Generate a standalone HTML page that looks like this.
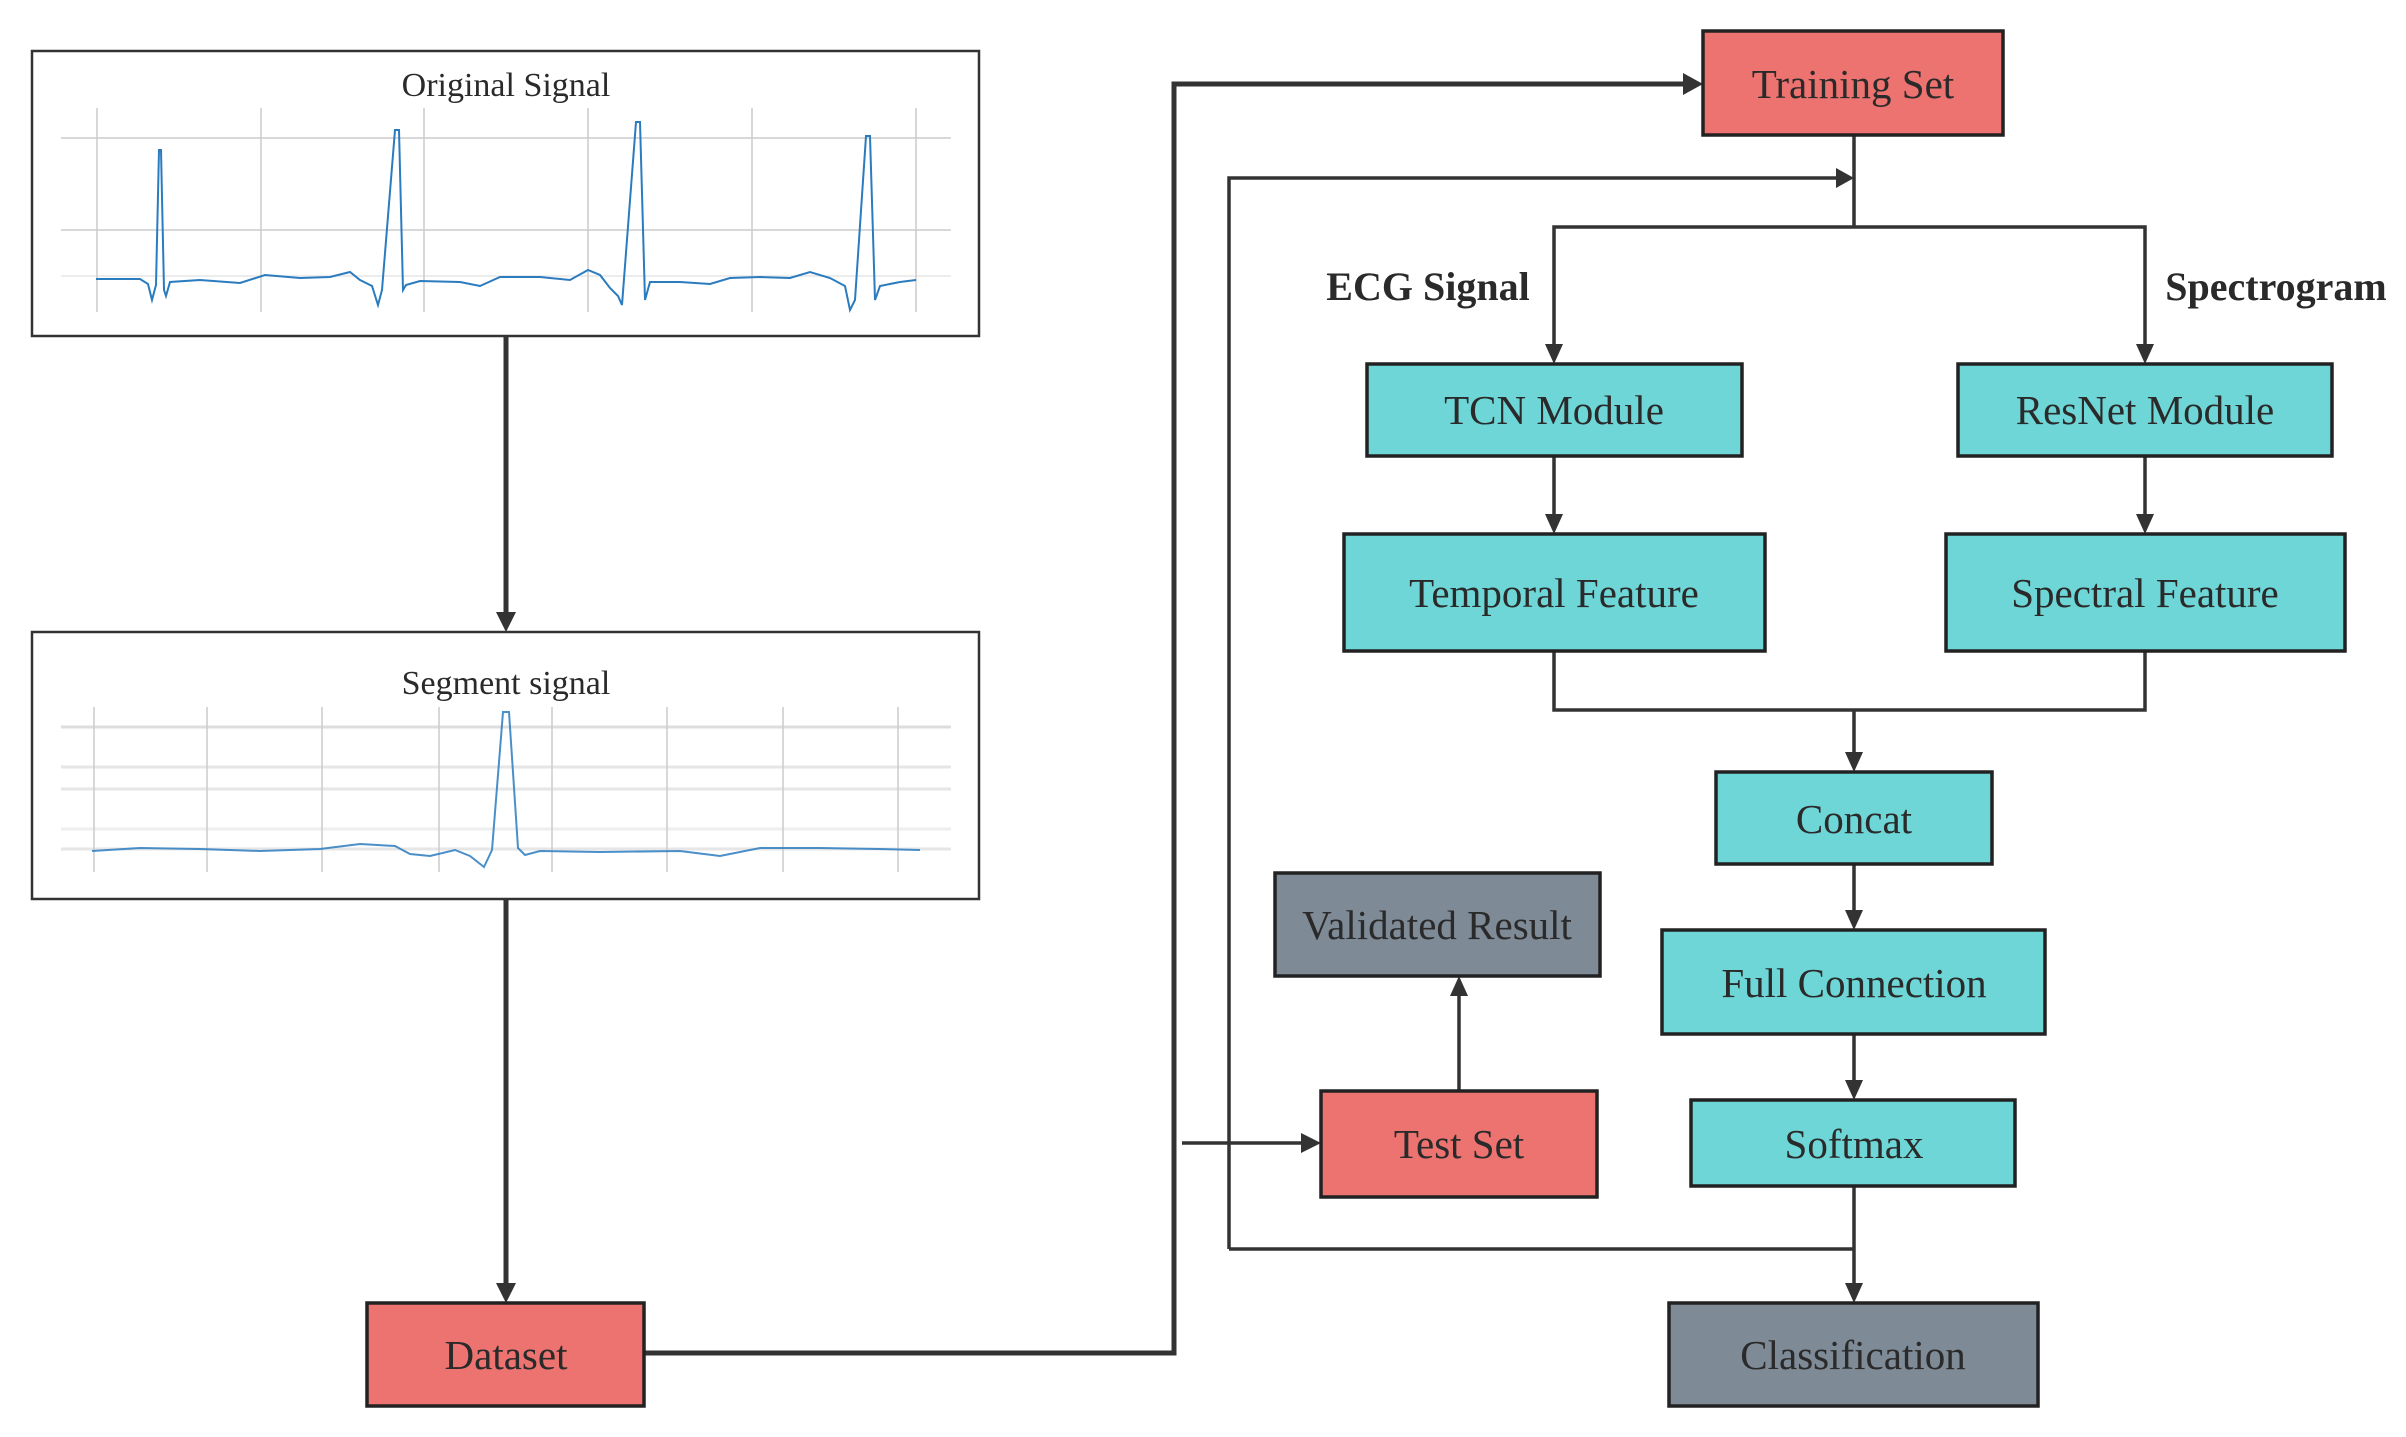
<!DOCTYPE html>
<html><head><meta charset="utf-8"><style>
html,body{margin:0;padding:0;background:#fff}
svg{display:block}
text{font-family:"Liberation Serif",serif;fill:#2a2a2a}
</style></head><body>
<svg width="2406" height="1437" viewBox="0 0 2406 1437" xmlns="http://www.w3.org/2000/svg">
<defs>
<marker id="ah" markerWidth="10" markerHeight="10" refX="9" refY="5" orient="auto" markerUnits="userSpaceOnUse" viewBox="0 0 10 10">
</marker>
</defs>
<!-- Original signal panel -->
<rect x="32" y="51" width="947" height="285" fill="#fff" stroke="#333" stroke-width="2.5"/>
<text x="506" y="96" font-size="34" text-anchor="middle">Original Signal</text>
<g stroke="#ccc" stroke-width="1.5">
<line x1="61" y1="138" x2="951" y2="138"/><line x1="61" y1="230" x2="951" y2="230"/><line x1="61" y1="276" x2="951" y2="276" stroke="#e6e6e6"/>
<line x1="97" y1="108" x2="97" y2="312"/><line x1="261" y1="108" x2="261" y2="312"/><line x1="424" y1="108" x2="424" y2="312"/><line x1="588" y1="108" x2="588" y2="312"/><line x1="752" y1="108" x2="752" y2="312"/><line x1="916" y1="108" x2="916" y2="312"/>
</g>
<polyline fill="none" stroke="#2b7bbf" stroke-width="2" points="96,279 140,279 148,284 152,300 156,285 159,150 161,150 164,290 166,296 170,282 200,280 240,283 265,275 300,278 330,277 350,272 360,280 372,286 378,305 382,290 395,130 399,130 403,290 406,285 420,281 460,282 480,286 500,277 540,277 570,280 588,270 600,275 610,288 618,296 622,305 636,122 640,122 645,300 650,282 680,282 710,284 730,278 760,277 790,278 810,272 830,278 845,286 850,310 855,300 866,136 870,136 875,300 880,286 900,282 916,280"/>
<!-- Segment panel -->
<rect x="32" y="632" width="947" height="267" fill="#fff" stroke="#333" stroke-width="2.5"/>
<text x="506" y="694" font-size="34" text-anchor="middle">Segment signal</text>
<g stroke="#ccc" stroke-width="1.5">
<line x1="61" y1="727" x2="951" y2="727" stroke="#ddd" stroke-width="3"/><line x1="61" y1="767" x2="951" y2="767" stroke="#e6e6e6" stroke-width="3"/><line x1="61" y1="789" x2="951" y2="789" stroke="#e6e6e6" stroke-width="3"/><line x1="61" y1="829" x2="951" y2="829" stroke="#eee" stroke-width="3"/><line x1="61" y1="849" x2="951" y2="849" stroke="#e6e6e6" stroke-width="3"/>
<line x1="94" y1="707" x2="94" y2="872"/><line x1="207" y1="707" x2="207" y2="872"/><line x1="322" y1="707" x2="322" y2="872"/><line x1="439" y1="707" x2="439" y2="872"/><line x1="552" y1="707" x2="552" y2="872"/><line x1="667" y1="707" x2="667" y2="872"/><line x1="783" y1="707" x2="783" y2="872"/><line x1="898" y1="707" x2="898" y2="872"/>
</g>
<polyline fill="none" stroke="#2b7bbf" stroke-width="2" opacity="0.85" points="92,851 140,848 200,849 260,851 320,849 360,844 395,846 410,854 430,856 455,850 470,856 484,867 492,850 503,712 509,712 518,848 525,855 540,851 600,852 680,851 720,856 760,848 820,848 880,849 920,850"/>
<!-- connectors -->
<g stroke="#333" stroke-width="5" fill="none">
<line x1="506" y1="336" x2="506" y2="615"/>
<line x1="506" y1="899" x2="506" y2="1286"/>
<polyline points="644,1353 1174,1353 1174,84 1686,84"/>
</g>
<g fill="#333">
<polygon points="496,612 516,612 506,632"/>
<polygon points="496,1283 516,1283 506,1303"/>
<polygon points="1683,73 1703,84 1683,95"/>
</g>
<g stroke="#333" stroke-width="3.5" fill="none">
<polyline points="1854,135 1854,227"/>
<polyline points="1554,348 1554,227 2145,227 2145,348"/>
<polyline points="1229,1249 1229,178 1838,178"/>
<line x1="1554" y1="456" x2="1554" y2="518"/>
<line x1="2145" y1="456" x2="2145" y2="518"/>
<polyline points="1554,651 1554,710 2145,710 2145,651"/>
<line x1="1854" y1="710" x2="1854" y2="756"/>
<line x1="1854" y1="864" x2="1854" y2="914"/>
<line x1="1854" y1="1034" x2="1854" y2="1084"/>
<line x1="1854" y1="1186" x2="1854" y2="1287"/>
<line x1="1229" y1="1249" x2="1854" y2="1249"/>
<line x1="1182" y1="1143" x2="1305" y2="1143"/>
<line x1="1459" y1="1091" x2="1459" y2="992"/>
</g>
<g fill="#333">
<polygon points="1836,168 1854,178 1836,188"/>
<polygon points="1545,344 1563,344 1554,364"/>
<polygon points="2136,344 2154,344 2145,364"/>
<polygon points="1545,514 1563,514 1554,534"/>
<polygon points="2136,514 2154,514 2145,534"/>
<polygon points="1845,752 1863,752 1854,772"/>
<polygon points="1845,910 1863,910 1854,930"/>
<polygon points="1845,1080 1863,1080 1854,1100"/>
<polygon points="1845,1283 1863,1283 1854,1303"/>
<polygon points="1301,1133 1321,1143 1301,1153"/>
<polygon points="1450,996 1468,996 1459,976"/>
</g>
<!-- nodes -->
<g stroke="#222" stroke-width="3.5">
<rect x="1703" y="31" width="300" height="104" fill="#ec7370"/>
<rect x="367" y="1303" width="277" height="103" fill="#ec7370"/>
<rect x="1321" y="1091" width="276" height="106" fill="#ec7370"/>
<rect x="1367" y="364" width="375" height="92" fill="#6fd6d7"/>
<rect x="1958" y="364" width="374" height="92" fill="#6fd6d7"/>
<rect x="1344" y="534" width="421" height="117" fill="#6fd6d7"/>
<rect x="1946" y="534" width="399" height="117" fill="#6fd6d7"/>
<rect x="1716" y="772" width="276" height="92" fill="#6fd6d7"/>
<rect x="1662" y="930" width="383" height="104" fill="#6fd6d7"/>
<rect x="1691" y="1100" width="324" height="86" fill="#6fd6d7"/>
<rect x="1275" y="873" width="325" height="103" fill="#7f8a97"/>
<rect x="1669" y="1303" width="369" height="103" fill="#7f8a97"/>
</g>
<g font-size="41" text-anchor="middle">
<text x="1853" y="98">Training Set</text>
<text x="506" y="1369">Dataset</text>
<text x="1459" y="1158">Test Set</text>
<text x="1554" y="424">TCN Module</text>
<text x="2145" y="424">ResNet Module</text>
<text x="1554" y="607">Temporal Feature</text>
<text x="2145" y="607">Spectral Feature</text>
<text x="1854" y="833">Concat</text>
<text x="1854" y="997">Full Connection</text>
<text x="1854" y="1158">Softmax</text>
<text x="1437" y="939">Validated Result</text>
<text x="1853" y="1369">Classification</text>
</g>
<text x="1428" y="300" font-size="40" font-weight="bold" text-anchor="middle">ECG Signal</text>
<text x="2276" y="300" font-size="40" font-weight="bold" text-anchor="middle">Spectrogram</text>
</svg>
</body></html>
